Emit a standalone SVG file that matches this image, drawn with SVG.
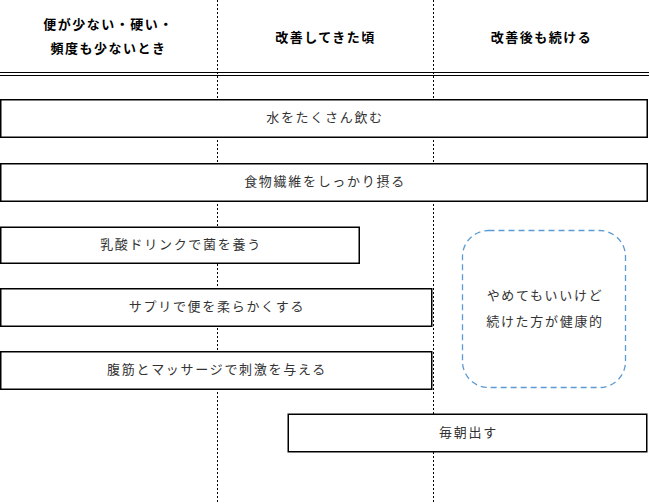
<svg xmlns="http://www.w3.org/2000/svg" width="649" height="504" viewBox="0 0 649 504">
<style>
.grid{stroke:#000;stroke-width:1;stroke-dasharray:2 2;fill:none}
.bar{fill:#fff;stroke:#000;stroke-width:1.5}
.t{font-family:"Noto Sans CJK JP","Noto Sans",sans-serif;font-size:13px;fill:#333;text-anchor:middle;dominant-baseline:central;letter-spacing:1.7px}
.h{font-family:"Noto Sans CJK JP","Noto Sans",sans-serif;font-size:13px;font-weight:bold;fill:#000;text-anchor:middle;dominant-baseline:central;letter-spacing:1.5px}
.cloud{fill:#fff;stroke:#5b9bd5;stroke-width:1.3;stroke-dasharray:6 4}
</style>
<rect width="649" height="504" fill="#fff"/>
<g id="grid">
<line class="grid" x1="217.5" y1="0" x2="217.5" y2="504"/>
<line class="grid" x1="433.5" y1="0" x2="433.5" y2="504"/>
<line x1="0" y1="72.5" x2="649" y2="72.5" stroke="#000" stroke-width="1"/>
<line x1="0" y1="75.5" x2="649" y2="75.5" stroke="#000" stroke-width="1"/>
</g>
<g id="headers">
<text class="h" x="108.5" y="23.5">便が少ない・硬い・</text>
<text class="h" x="108.5" y="47.5">頻度も少ないとき</text>
<text class="h" x="325.5" y="36.5">改善してきた頃</text>
<text class="h" x="541.5" y="36.5">改善後も続ける</text>
</g>
<g id="bar1"><rect class="bar" x="0.75" y="99.75" width="646.5" height="37.5"/><text class="t" x="325" y="116.5">水をたくさん飲む</text></g>
<g id="bar2"><rect class="bar" x="0.75" y="163.75" width="646.5" height="37.5"/><text class="t" x="325" y="180.5">食物繊維をしっかり摂る</text></g>
<g id="bar3"><rect class="bar" x="0.75" y="227.25" width="358.5" height="36"/><text class="t" x="181" y="243.5">乳酸ドリンクで菌を養う</text></g>
<g id="bar4"><rect class="bar" x="0.75" y="288.75" width="431" height="37.5"/><text class="t" x="217" y="305">サプリで便を柔らかくする</text></g>
<g id="bar5"><rect class="bar" x="0.75" y="351.75" width="431" height="37.5"/><text class="t" x="217" y="368">腹筋とマッサージで刺激を与える</text></g>
<g id="bar6"><rect class="bar" x="288.25" y="414.25" width="358.5" height="37.5"/><text class="t" x="468.5" y="431">毎朝出す</text></g>
<g id="note">
<rect class="cloud" x="462.5" y="230.5" width="163" height="157" rx="26" ry="26"/>
<text class="t" x="545" y="294.5">やめてもいいけど</text>
<text class="t" x="545" y="320">続けた方が健康的</text>
</g>
</svg>
